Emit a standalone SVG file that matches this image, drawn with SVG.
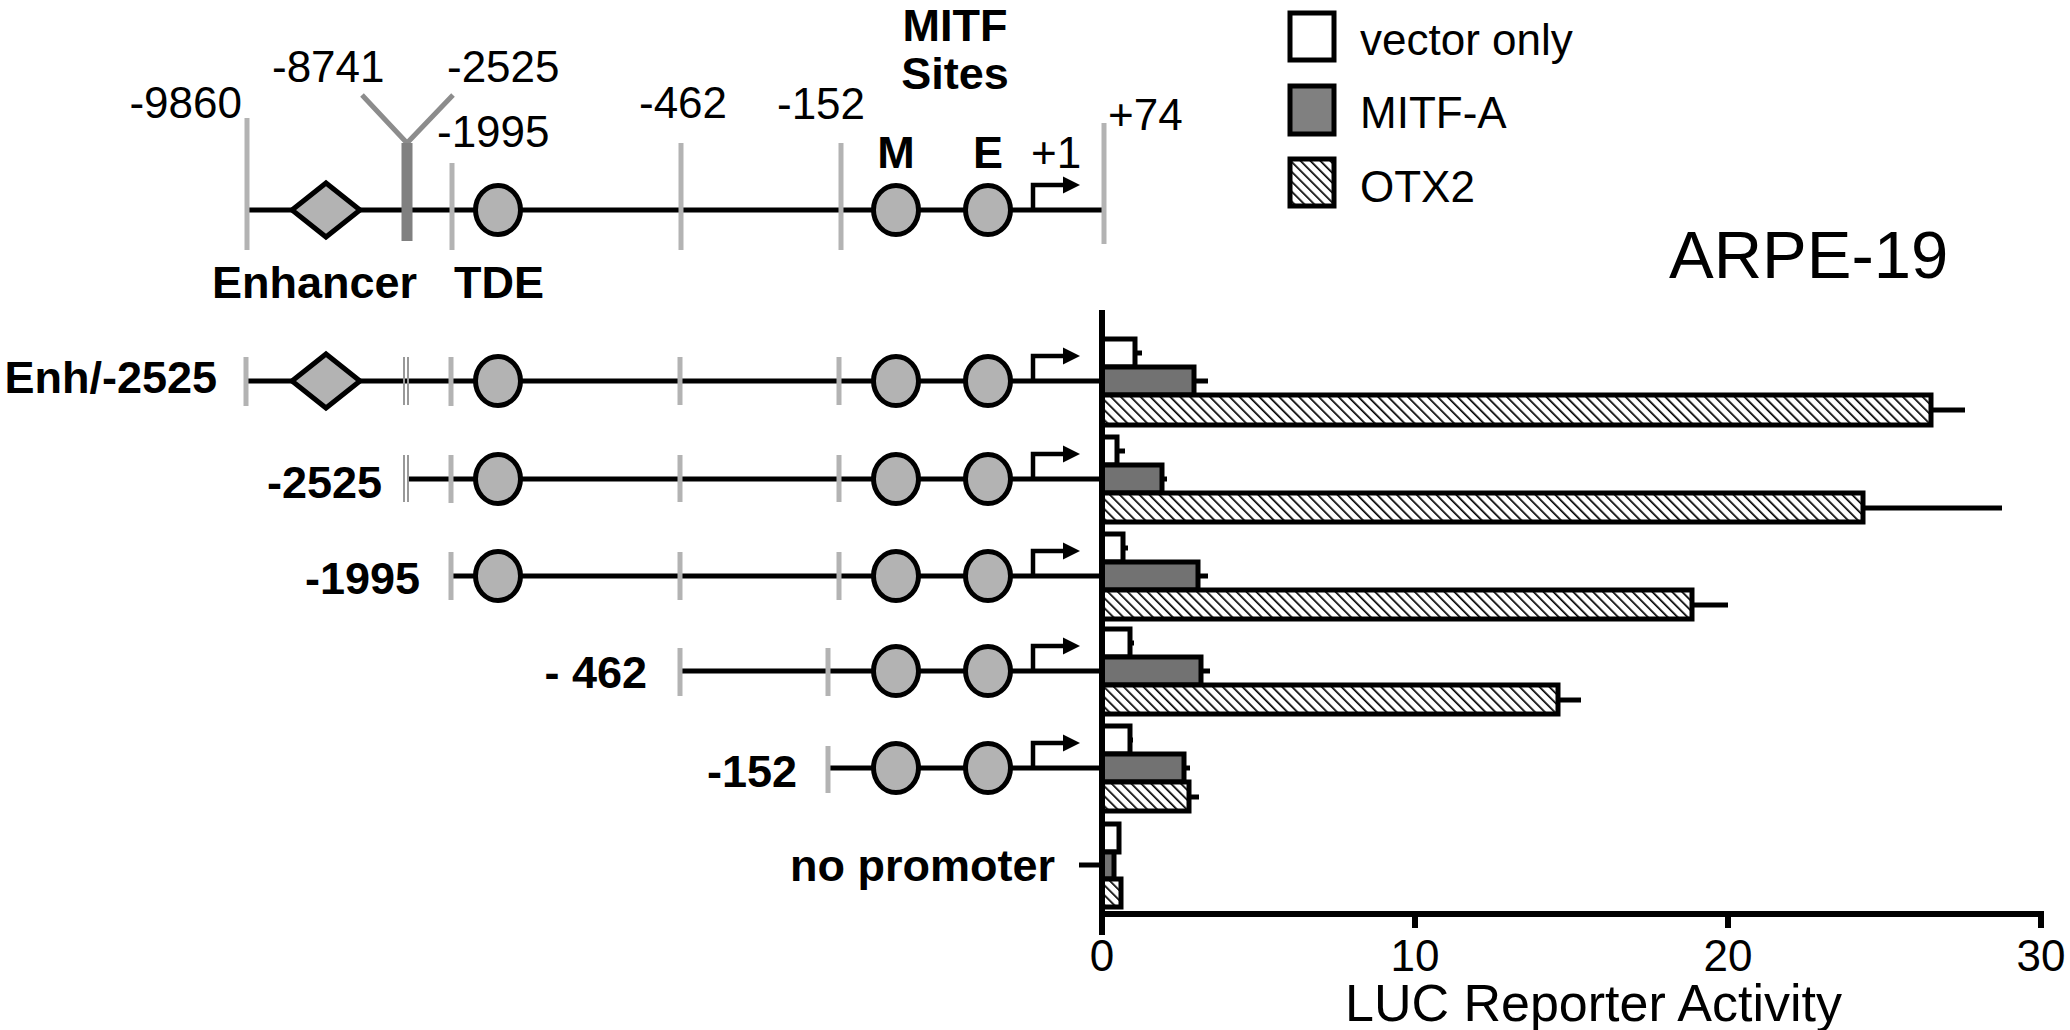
<svg xmlns="http://www.w3.org/2000/svg" width="2070" height="1030" viewBox="0 0 2070 1030">
<defs>
<style>
.bb{stroke:#000;stroke-width:5;fill:none}
.tk{stroke:#b3b3b3;stroke-width:5}
.dl{stroke:#999;stroke-width:2}
.site{fill:#b3b3b3;stroke:#000;stroke-width:5}
.t{font-family:"Liberation Sans",Arial,sans-serif;font-size:44px;fill:#000}
.b{font-family:"Liberation Sans",Arial,sans-serif;font-size:45px;font-weight:bold;fill:#000}
.bar{stroke:#000;stroke-width:5}
.v{fill:#fff}.m{fill:#727272}.o{fill:url(#hatch)}
.err{stroke:#000;stroke-width:5}
.ax{stroke:#000;stroke-width:6}
</style>
<pattern id="hatch" patternUnits="userSpaceOnUse" width="7" height="7" patternTransform="rotate(-45)">
<rect width="7" height="7" fill="#fff"/>
<line x1="0" y1="-1" x2="0" y2="8" stroke="#000" stroke-width="3.4"/>
</pattern>
<g id="tss">
<path d="M0,0 V-25 H32" fill="none" stroke="#000" stroke-width="4.5"/>
<polygon points="30,-33.5 47,-25 30,-16.5" fill="#000"/>
</g>
</defs>
<rect width="2070" height="1030" fill="#fff"/>

<g id="connectors">
<line class="bb" x1="247" y1="210" x2="1102" y2="210"/>
<line class="bb" x1="246" y1="381" x2="1102" y2="381"/>
<line class="bb" x1="407" y1="479" x2="1102" y2="479"/>
<line class="bb" x1="451" y1="576" x2="1102" y2="576"/>
<line class="bb" x1="680" y1="671" x2="1102" y2="671"/>
<line class="bb" x1="828" y1="768" x2="1102" y2="768"/>
<line class="bb" x1="1079" y1="865" x2="1102" y2="865"/>
</g>

<g id="top-map">
<line class="tk" x1="247" y1="118" x2="247" y2="250"/>
<line class="tk" x1="452" y1="163" x2="452" y2="250"/>
<line class="tk" x1="681" y1="143" x2="681" y2="250"/>
<line class="tk" x1="841" y1="143" x2="841" y2="250"/>
<line class="tk" x1="1104" y1="123" x2="1104" y2="244"/>
<polyline points="362,95 407,143 453,95" fill="none" stroke="#8c8c8c" stroke-width="5"/>
<line x1="407" y1="143" x2="407" y2="241" stroke="#808080" stroke-width="11"/>
<polygon class="site" points="292,210 326,183 360,210 326,237"/>
<ellipse class="site" cx="498" cy="210" rx="22.5" ry="24.5"/>
<ellipse class="site" cx="896" cy="210" rx="22.5" ry="24.5"/>
<ellipse class="site" cx="988" cy="210" rx="22.5" ry="24.5"/>
<use href="#tss" x="1033" y="210"/>
<text class="t" x="242" y="118" text-anchor="end">-9860</text>
<text class="t" x="272" y="82">-8741</text>
<text class="t" x="447" y="82">-2525</text>
<text class="t" x="437" y="147">-1995</text>
<text class="t" x="639" y="118">-462</text>
<text class="t" x="777" y="119">-152</text>
<text class="t" x="1108" y="130">+74</text>
<text class="t" x="1031" y="168">+1</text>
<text class="b" x="896" y="168" text-anchor="middle">M</text>
<text class="b" x="988" y="168" text-anchor="middle">E</text>
<text class="b" x="955" y="41" text-anchor="middle">MITF</text>
<text class="b" x="955" y="89" text-anchor="middle">Sites</text>
<text class="b" x="212" y="298">Enhancer</text>
<text class="b" x="454" y="298">TDE</text>
</g>

<g id="row-enh-2525">
<line class="tk" x1="246" y1="357" x2="246" y2="406"/>
<line class="dl" x1="404" y1="357" x2="404" y2="405"/>
<line class="dl" x1="408" y1="357" x2="408" y2="405"/>
<line class="tk" x1="451" y1="357" x2="451" y2="406"/>
<line class="tk" x1="680" y1="357" x2="680" y2="405"/>
<line class="tk" x1="839" y1="357" x2="839" y2="405"/>
<polygon class="site" points="292,381 326,354 360,381 326,408"/>
<ellipse class="site" cx="498" cy="381" rx="22.5" ry="24.5"/>
<ellipse class="site" cx="896" cy="381" rx="22.5" ry="24.5"/>
<ellipse class="site" cx="988" cy="381" rx="22.5" ry="24.5"/>
<use href="#tss" x="1033" y="381"/>
<text class="b" x="217" y="393" text-anchor="end">Enh/-2525</text>
</g>

<g id="row-2525">
<line class="dl" x1="404" y1="455" x2="404" y2="502"/>
<line class="dl" x1="408" y1="455" x2="408" y2="502"/>
<line class="tk" x1="451" y1="455" x2="451" y2="503"/>
<line class="tk" x1="680" y1="455" x2="680" y2="502"/>
<line class="tk" x1="839" y1="455" x2="839" y2="502"/>
<ellipse class="site" cx="498" cy="479" rx="22.5" ry="24.5"/>
<ellipse class="site" cx="896" cy="479" rx="22.5" ry="24.5"/>
<ellipse class="site" cx="988" cy="479" rx="22.5" ry="24.5"/>
<use href="#tss" x="1033" y="479"/>
<text class="b" x="382" y="498" text-anchor="end">-2525</text>
</g>

<g id="row-1995">
<line class="tk" x1="451" y1="552" x2="451" y2="600"/>
<line class="tk" x1="680" y1="552" x2="680" y2="600"/>
<line class="tk" x1="839" y1="552" x2="839" y2="600"/>
<ellipse class="site" cx="498" cy="576" rx="22.5" ry="24.5"/>
<ellipse class="site" cx="896" cy="576" rx="22.5" ry="24.5"/>
<ellipse class="site" cx="988" cy="576" rx="22.5" ry="24.5"/>
<use href="#tss" x="1033" y="576"/>
<text class="b" x="420" y="594" text-anchor="end">-1995</text>
</g>

<g id="row-462">
<line class="tk" x1="680" y1="648" x2="680" y2="696"/>
<line class="tk" x1="828" y1="648" x2="828" y2="696"/>
<ellipse class="site" cx="896" cy="671" rx="22.5" ry="24.5"/>
<ellipse class="site" cx="988" cy="671" rx="22.5" ry="24.5"/>
<use href="#tss" x="1033" y="671"/>
<text class="b" x="647" y="688" text-anchor="end">- 462</text>
</g>

<g id="row-152">
<line class="tk" x1="828" y1="746" x2="828" y2="793"/>
<ellipse class="site" cx="896" cy="768" rx="22.5" ry="24.5"/>
<ellipse class="site" cx="988" cy="768" rx="22.5" ry="24.5"/>
<use href="#tss" x="1033" y="768"/>
<text class="b" x="797" y="787" text-anchor="end">-152</text>
</g>

<g id="row-no-promoter">
<text class="b" x="1055" y="881" text-anchor="end">no promoter</text>
</g>

<g id="legend">
<rect class="bar v" x="1290" y="13" width="44" height="47" stroke-width="6"/>
<rect class="bar" x="1290" y="86" width="44" height="48" fill="#808080" stroke-width="6"/>
<rect class="bar o" x="1290" y="159" width="44" height="47" stroke-width="6"/>
<text class="t" x="1360" y="55" font-size="43">vector only</text>
<text class="t" x="1360" y="128" font-size="43">MITF-A</text>
<text class="t" x="1360" y="202" font-size="43">OTX2</text>
</g>

<g id="title">
<text class="t" x="1669" y="278" style="font-size:67px">ARPE-19</text>
</g>

<g id="bars">
<line class="err" x1="1135" y1="353" x2="1142" y2="353"/>
<line class="err" x1="1194" y1="381" x2="1208" y2="381"/>
<line class="err" x1="1931" y1="410" x2="1965" y2="410"/>
<rect class="bar v" x="1102" y="339" width="33" height="28"/>
<rect class="bar m" x="1102" y="367" width="92" height="28"/>
<rect class="bar o" x="1102" y="395" width="829" height="30"/>

<line class="err" x1="1117" y1="451" x2="1125" y2="451"/>
<line class="err" x1="1162" y1="479" x2="1167" y2="479"/>
<line class="err" x1="1863" y1="508" x2="2002" y2="508"/>
<rect class="bar v" x="1102" y="437" width="15" height="28"/>
<rect class="bar m" x="1102" y="465" width="60" height="28"/>
<rect class="bar o" x="1102" y="493" width="761" height="29"/>

<line class="err" x1="1123" y1="548" x2="1128" y2="548"/>
<line class="err" x1="1198" y1="576" x2="1208" y2="576"/>
<line class="err" x1="1692" y1="605" x2="1728" y2="605"/>
<rect class="bar v" x="1102" y="534" width="21" height="28"/>
<rect class="bar m" x="1102" y="562" width="96" height="28"/>
<rect class="bar o" x="1102" y="590" width="590" height="29"/>

<line class="err" x1="1130" y1="643" x2="1134" y2="643"/>
<line class="err" x1="1201" y1="671" x2="1210" y2="671"/>
<line class="err" x1="1558" y1="700" x2="1581" y2="700"/>
<rect class="bar v" x="1102" y="629" width="28" height="28"/>
<rect class="bar m" x="1102" y="657" width="99" height="28"/>
<rect class="bar o" x="1102" y="685" width="456" height="29"/>

<line class="err" x1="1130" y1="740" x2="1133" y2="740"/>
<line class="err" x1="1184" y1="768" x2="1190" y2="768"/>
<line class="err" x1="1189" y1="797" x2="1199" y2="797"/>
<rect class="bar v" x="1102" y="726" width="28" height="28"/>
<rect class="bar m" x="1102" y="754" width="82" height="28"/>
<rect class="bar o" x="1102" y="782" width="87" height="29"/>

<rect class="bar v" x="1102" y="824" width="17" height="28"/>
<rect class="bar m" x="1102" y="852" width="12" height="27"/>
<rect class="bar o" x="1102" y="879" width="19" height="28"/>
</g>

<g id="axis">
<line class="ax" x1="1102" y1="310" x2="1102" y2="935"/>
<line class="ax" x1="1099" y1="914" x2="2044" y2="914"/>
<line class="ax" x1="1415" y1="914" x2="1415" y2="928"/>
<line class="ax" x1="1728" y1="914" x2="1728" y2="928"/>
<line class="ax" x1="2041" y1="914" x2="2041" y2="928"/>
<text class="t" x="1102" y="971" text-anchor="middle" font-size="42">0</text>
<text class="t" x="1415" y="971" text-anchor="middle" font-size="42">10</text>
<text class="t" x="1728" y="971" text-anchor="middle" font-size="42">20</text>
<text class="t" x="2041" y="971" text-anchor="middle" font-size="42">30</text>
<text class="t" x="1345" y="1021" style="font-size:52px">LUC Reporter Activity</text>
</g>
</svg>
